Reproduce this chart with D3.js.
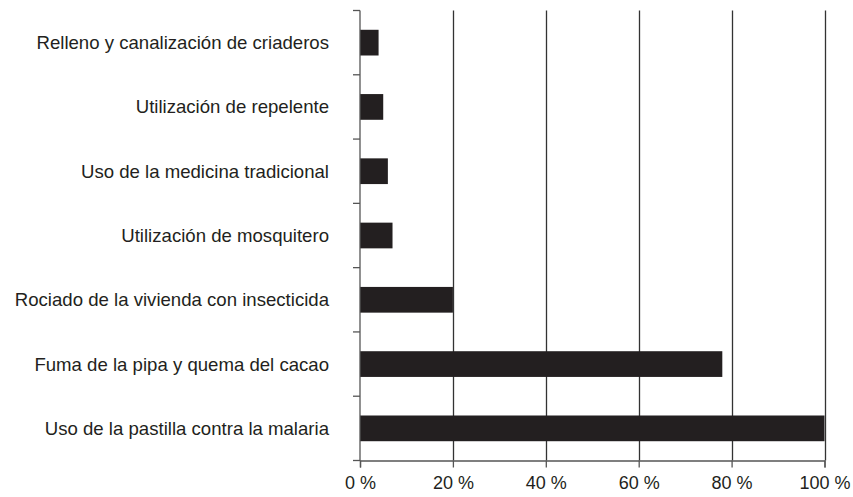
<!DOCTYPE html>
<html>
<head>
<meta charset="utf-8">
<title>Medidas contra la malaria</title>
<style>
  body { margin: 0; background: #fff; }
  text { font-family: "Liberation Sans", Arial, sans-serif; fill: #231f20; }
</style>
</head>
<body>
<div id="chart"></div>
<script src="https://cdn.jsdelivr.net/npm/d3@7"></script>
<script>
var categories = [
  "Relleno y canalización de criaderos",
  "Utilización de repelente",
  "Uso de la medicina tradicional",
  "Utilización de mosquitero",
  "Rociado de la vivienda con insecticida",
  "Fuma de la pipa y quema del cacao",
  "Uso de la pastilla contra la malaria"
];
var values = [4, 5, 6, 7, 20, 78, 100];
var xTicks = [0, 20, 40, 60, 80, 100];

var width = 853, height = 497;
var margin = {top: 10.5, right: 28.5, bottom: 36.5, left: 360};

var svg = d3.select("#chart").append("svg")
    .attr("width", width)
    .attr("height", height);

var x = d3.scaleLinear()
    .domain([0, 100])
    .range([margin.left, width - margin.right]);

var y = d3.scaleBand()
    .domain(categories)
    .range([margin.top, height - margin.bottom])
    .paddingInner(0.6)
    .paddingOuter(0.3);

var bottom = height - margin.bottom;

// vertical gridlines
svg.append("g")
  .selectAll("line")
  .data(xTicks.slice(1))
  .enter().append("line")
    .attr("x1", function(d) { return Math.round(x(d)) + 0.5; })
    .attr("x2", function(d) { return Math.round(x(d)) + 0.5; })
    .attr("y1", margin.top)
    .attr("y2", bottom)
    .attr("stroke", "#333")
    .attr("stroke-width", 1.3);

// bars
svg.append("g")
  .selectAll("rect")
  .data(values)
  .enter().append("rect")
    .attr("x", x(0))
    .attr("y", function(d, i) { return y(categories[i]); })
    .attr("width", function(d) { return x(d) - x(0); })
    .attr("height", y.bandwidth())
    .attr("fill", "#231f20");

// y axis with ticks between categories
var yAxis = svg.append("g").attr("class", "y-axis");
yAxis.append("line")
    .attr("x1", x(0)).attr("x2", x(0))
    .attr("y1", margin.top).attr("y2", bottom)
    .attr("stroke", "#555").attr("stroke-width", 1.3);
yAxis.selectAll(".tick")
  .data(d3.range(categories.length + 1))
  .enter().append("line")
    .attr("x1", x(0) - 7).attr("x2", x(0))
    .attr("y1", function(i) { return margin.top + i * (bottom - margin.top) / categories.length; })
    .attr("y2", function(i) { return margin.top + i * (bottom - margin.top) / categories.length; })
    .attr("stroke", "#555").attr("stroke-width", 1.3);
yAxis.selectAll("text")
  .data(categories)
  .enter().append("text")
    .attr("x", x(0) - 31)
    .attr("y", function(d) { return y(d) + y.bandwidth() / 2; })
    .attr("dy", "0.35em")
    .attr("text-anchor", "end")
    .style("font-size", "18.6px")
    .text(function(d) { return d; });

// x axis
var xAxis = svg.append("g")
    .attr("transform", "translate(0," + bottom + ")")
    .call(d3.axisBottom(x)
      .tickValues(xTicks)
      .tickSize(7)
      .tickFormat(function(d) { return d + " %"; }));
xAxis.select(".domain").attr("stroke", "#555").attr("stroke-width", 1.3);
xAxis.selectAll(".tick line").attr("stroke", "#555").attr("stroke-width", 1.3);
xAxis.selectAll(".tick text")
    .attr("y", 16)
    .style("font-size", "18px")
    .style("font-family", "'Liberation Sans', Arial, sans-serif")
    .attr("fill", "#231f20");
</script>
</body>
</html>
